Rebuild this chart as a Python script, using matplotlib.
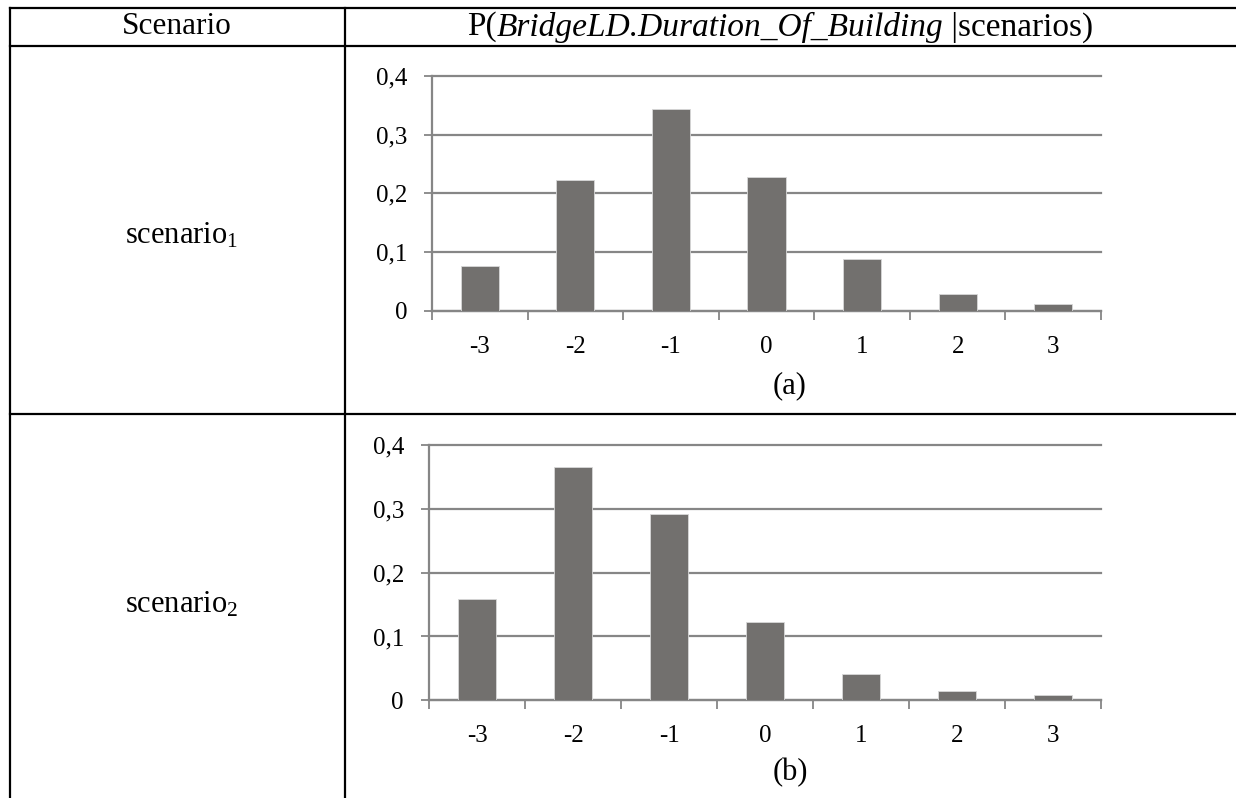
import numpy as np
import matplotlib
matplotlib.use("Agg")
import matplotlib.pyplot as plt  # noqa: E402

plt.rcParams["font.family"] = ["Liberation Serif", "DejaVu Serif"]
plt.rcParams["mathtext.fontset"] = "custom"
plt.rcParams["mathtext.rm"] = "Liberation Serif"
plt.rcParams["mathtext.it"] = "Liberation Serif:italic"

# values
categories = ["-3", "-2", "-1", "0", "1", "2", "3"]
p_scenario1 = [0.077, 0.222, 0.343, 0.228, 0.088, 0.029, 0.012]
p_scenario2 = [0.158, 0.365, 0.292, 0.122, 0.041, 0.014, 0.008]
y_ticks = [0, 0.1, 0.2, 0.3, 0.4]
y_labels = ["0", "0,1", "0,2", "0,3", "0,4"]
row_names = ["scenario$_1$", "scenario$_2$"]
panel_tags = ["(a)", "(b)"]
header_parts = [("P(", "normal"), ("BridgeLD.Duration_Of_Building", "italic"), (" |scenarios)", "normal")]

W, H = 1236, 798
BAR = "#72706e"
AXIS = "#868686"


def px_axes(fig, x0, y0, x1, y1):
    # box in pixel coords (origin top-left)
    return fig.add_axes([x0 / W, 1 - y1 / H, (x1 - x0) / W, (y1 - y0) / H])


def _bar_panel(ax, values, tick_font, tick_size):
    x = np.arange(len(values))
    ax.bar(x, values, width=0.4, color=BAR, edgecolor="#d8d8d8", linewidth=0.6, zorder=3)
    ax.set_xlim(-0.5, len(values) - 0.5)
    ax.set_ylim(0, 0.4)
    ax.set_xticks(x, categories)
    ax.set_xticks(np.arange(-0.5, len(values)), minor=True)
    ax.tick_params(axis="x", which="major", length=0, pad=18)
    ax.tick_params(axis="x", which="minor", length=6.5, width=1.3, color=AXIS, direction="out")
    ax.set_yticks(y_ticks, y_labels)
    ax.tick_params(axis="y", length=6, width=1.3, color=AXIS, direction="out", pad=12)
    for lbl in ax.get_xticklabels() + ax.get_yticklabels():
        lbl.set_fontfamily(tick_font)
        lbl.set_fontsize(tick_size)
    ax.grid(axis="y", color=AXIS, linewidth=1.6, zorder=0)
    for gl in ax.get_ygridlines():
        gl.set_clip_on(False)
    ax.set_axisbelow(True)
    for s in ("top", "right"):
        ax.spines[s].set_visible(False)
    for s in ("left", "bottom"):
        ax.spines[s].set_color(AXIS)
        ax.spines[s].set_linewidth(1.6)
    ax.set_facecolor("none")


fig = plt.figure(figsize=(W / 100, H / 100), dpi=100)

ax_a = px_axes(fig, 432, 76, 1101, 310.7)
_bar_panel(ax_a, p_scenario1, "Liberation Serif", 18)
ax_b = px_axes(fig, 429, 445, 1101, 700.3)
_bar_panel(ax_b, p_scenario2, "Liberation Serif", 18)

# table frame and texts on a full-figure overlay
tab = fig.add_axes([0, 0, 1, 1])
tab.set_xlim(0, W)
tab.set_ylim(H, 0)
tab.axis("off")
tab.patch.set_visible(False)
lw = 1.6
tab.plot([9.5, W], [7.5, 7.5], color="black", lw=lw)
tab.plot([9.5, W], [46, 46], color="black", lw=lw)
tab.plot([9.5, W], [414, 414], color="black", lw=lw)
tab.plot([9.5, 9.5], [7.5, H], color="black", lw=lw)
tab.plot([345, 345], [7.5, H], color="black", lw=lw)

tab.text(177, 27, "Scenario", ha="center", va="center", fontsize=22.5)
tab.text(182, 236, row_names[0], ha="center", va="center", fontsize=22)
tab.text(182, 605, row_names[1], ha="center", va="center", fontsize=22)
tab.text(790, 386, panel_tags[0], ha="center", va="center", fontsize=22)
tab.text(790, 773, panel_tags[1], ha="center", va="center", fontsize=22)

# header made of plain and italic pieces, laid out left to right
renderer = fig.canvas.get_renderer()
pieces = [tab.text(0, 27, s, style=st, ha="left", va="center", fontsize=24)
          for s, st in header_parts]
widths = [p.get_window_extent(renderer).width for p in pieces]
x = 780 - sum(widths) / 2
for p, w in zip(pieces, widths):
    p.set_x(x)
    x += w

fig.savefig("out.png", dpi=100)
